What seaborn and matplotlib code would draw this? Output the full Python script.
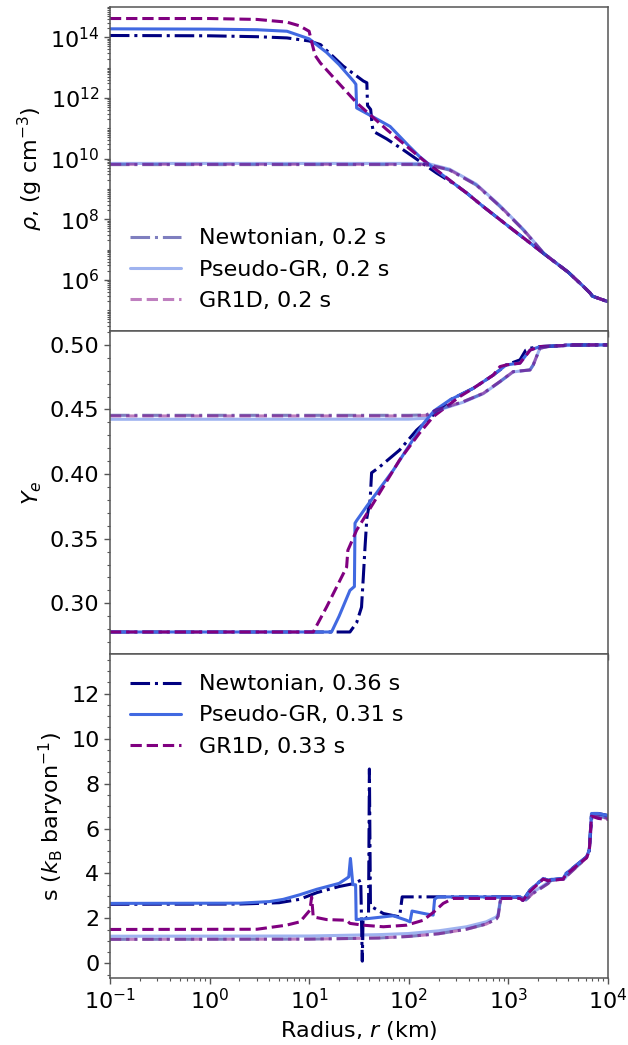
import numpy as np
import pandas as pd
import matplotlib
matplotlib.use("Agg")
import matplotlib.pyplot as plt
import seaborn as sns
from matplotlib.ticker import LogLocator, AutoMinorLocator, NullFormatter

# ---------------------------------------------------------------------------
# Model names, colours and line styles
models = ["Newtonian", "Pseudo-GR", "GR1D"]
late_times = ["0.36 s", "0.31 s", "0.33 s"]
early_time = "0.2 s"
colors = ["#000080", "#4169e1", "#800080"]
styles = ["-.", "-", "--"]

# ---------------------------------------------------------------------------
# Density: radius (km) and log10(rho / g cm^-3)
r_rho_tail = [300, 380, 558, 1000, 2240, 4000, 5600, 6600, 7000, 10000]
lrho_tail = [9.12, 8.87, 8.42, 7.77, 6.88, 6.25, 5.80, 5.57, 5.46, 5.28]

r_rho_newt = [0.1, 1, 3, 6, 10, 13, 22, 35, 38.0, 38.6, 41.5, 43.0, 44.0, 60, 88, 191]
lrho_newt = [14.06, 14.05, 14.02, 13.98, 13.88, 13.76, 13.05, 12.56, 12.5, 11.75,
             11.62, 11.1, 10.9, 10.65, 10.29, 9.52]

r_rho_pgr = [0.1, 1, 3, 6, 10, 15, 20, 28, 29.5, 30.0, 50, 65, 100, 128, 191]
lrho_pgr = [14.28, 14.27, 14.25, 14.2, 13.95, 13.5, 13.1, 12.55, 12.45, 11.67,
            11.27, 11.06, 10.42, 10.07, 9.6]

r_rho_gr1d = [0.1, 1, 3, 6, 8, 10, 10.6, 11.5, 13, 17.3, 30, 60, 100, 151, 191]
lrho_gr1d = [14.62, 14.62, 14.59, 14.5, 14.38, 14.2, 13.85, 13.4, 13.15, 12.7,
             11.84, 10.96, 10.35, 9.86, 9.62]

r_rho_early = [0.1, 10, 100, 120, 162, 257, 475, 824, 1410, 2300, 4000, 5600, 6600, 7000, 10000]
lrho_newt_early = [9.80, 9.80, 9.80, 9.80, 9.78, 9.62, 9.13, 8.42, 7.65, 6.85, 6.25, 5.80, 5.57, 5.46, 5.28]
lrho_pgr_early = [9.84, 9.84, 9.84, 9.84, 9.82, 9.65, 9.16, 8.45, 7.67, 6.86, 6.25, 5.80, 5.57, 5.46, 5.28]
lrho_gr1d_early = [9.81, 9.81, 9.81, 9.81, 9.79, 9.63, 9.14, 8.43, 7.66, 6.85, 6.25, 5.80, 5.57, 5.46, 5.28]

# ---------------------------------------------------------------------------
# Electron fraction
r_ye_newt = [0.1, 25.7, 30, 33.6, 35, 36.4, 38, 41, 42.4, 50, 81, 120, 190, 259,
             445, 708, 955, 1310, 1500, 1650, 2090, 3560, 3900, 10000]
ye_newt = [0.2778, 0.2778, 0.285, 0.297, 0.32, 0.343, 0.366, 0.38, 0.401, 0.405,
           0.4186, 0.434, 0.448, 0.4574, 0.4664, 0.4767, 0.4845, 0.4884, 0.496,
           0.4974, 0.4987, 0.4995, 0.5, 0.5]

r_ye_pgr = [0.1, 16.8, 20, 25.7, 28.5, 28.9, 30, 37.8, 70, 140, 180, 259, 445,
            708, 955, 1310, 1650, 2090, 3560, 3900, 10000]
ye_pgr = [0.2778, 0.2778, 0.29, 0.31, 0.313, 0.362, 0.364, 0.375, 0.403, 0.439,
          0.449, 0.4574, 0.4664, 0.4767, 0.4845, 0.486, 0.496, 0.4987, 0.4995, 0.5, 0.5]

r_ye_gr1d = [0.1, 11, 15, 23.8, 24.5, 30, 44, 81, 128, 176, 326, 445, 708, 825,
             955, 1310, 1660, 2090, 3560, 3900, 10000]
ye_gr1d = [0.2778, 0.2778, 0.2972, 0.328, 0.341, 0.3566, 0.3773, 0.4109, 0.4316,
           0.4444, 0.46, 0.4664, 0.4767, 0.4832, 0.4845, 0.4858, 0.496, 0.4987,
           0.4995, 0.5, 0.5]

r_ye_early = [0.1, 100, 150, 190, 352, 560, 824, 1120, 1650, 1780, 2075, 2500, 3800, 10000]
ye_newt_early = [0.4455, 0.4455, 0.4458, 0.4496, 0.456, 0.4625, 0.4716, 0.4793,
                 0.4806, 0.4845, 0.4974, 0.4987, 0.4995, 0.5]
ye_pgr_early = [0.4424, 0.4425, 0.4432, 0.4490, 0.4556, 0.4622, 0.4714, 0.4791,
                0.4806, 0.4845, 0.4974, 0.4987, 0.4995, 0.5]
ye_gr1d_early = [0.4450, 0.4450, 0.4455, 0.4496, 0.456, 0.4625, 0.4716, 0.4793,
                 0.4806, 0.4845, 0.4974, 0.4987, 0.4995, 0.5]

# ---------------------------------------------------------------------------
# Entropy per baryon
r_s_tail = [1310, 1400, 1650, 2240, 2500, 3550, 3800, 6100, 6500, 6840, 8000, 10000]
s_tail = [2.96, 2.8, 3.26, 3.78, 3.7, 3.78, 4.0, 4.74, 5.04, 6.67, 6.67, 6.58]

r_s_newt = [0.1, 2, 5, 8, 12, 20, 28, 33, 34.2, 34.8, 36, 39.5, 40.3, 41.3, 42.6,
            55.6, 81, 86]
s_newt = [2.63, 2.64, 2.7, 2.85, 3.15, 3.42, 3.55, 3.7, 0.1, 2.0, 1.95, 2.1, 8.65,
          2.6, 2.52, 2.22, 2.07, 2.96]

r_s_pgr = [0.1, 2, 4, 5.5, 8, 12, 20, 23.8, 25.0, 26.0, 27.5, 29.3, 29.7, 40, 55.6,
           70, 95, 103, 108, 150, 176, 182, 195]
s_pgr = [2.67, 2.68, 2.75, 2.85, 3.05, 3.3, 3.56, 3.78, 3.85, 4.67, 3.5, 3.5, 1.95,
         2.0, 2.07, 2.12, 1.92, 1.85, 2.33, 2.2, 2.15, 2.85, 2.96]

r_s_gr1d = [0.1, 3, 5.9, 8.1, 10.2, 10.6, 11.0, 15, 23.8, 25.7, 35, 55.6, 95, 140,
            180, 222, 280]
s_gr1d = [1.51, 1.52, 1.7, 1.85, 2.37, 2.96, 2.07, 1.95, 1.92, 1.78, 1.7, 1.63,
          1.7, 1.92, 2.3, 2.67, 2.89]
s_gr1d_end = [2.89, 2.8, 3.2, 3.75, 3.68, 3.75, 3.95, 4.7, 5.0, 6.55, 6.45, 6.4]

r_s_early = [0.1, 10, 50, 100, 200, 380, 600, 760, 790, 830, 850, 1000, 1310, 1500,
             1750, 2500, 2700, 3700, 4000, 6100, 6500, 6900, 8000, 10000]
s_pgr_early = [1.21, 1.22, 1.28, 1.33, 1.45, 1.63, 1.85, 2.07, 2.2, 2.8, 2.9, 2.93,
               2.96, 2.85, 3.15, 3.6, 3.75, 3.78, 4.0, 4.74, 5.04, 6.6, 6.6, 6.5]
s_newt_early = [1.07, 1.08, 1.13, 1.2, 1.32, 1.52, 1.75, 1.98, 2.1, 2.75, 2.88,
                2.92, 2.95, 2.82, 3.1, 3.55, 3.7, 3.75, 3.95, 4.7, 5.0, 6.55, 6.55, 6.45]
s_gr1d_early = [1.07, 1.08, 1.13, 1.2, 1.32, 1.52, 1.75, 1.98, 2.1, 2.75, 2.88,
                2.92, 2.95, 2.82, 3.1, 3.55, 3.7, 3.75, 3.95, 4.7, 5.0, 6.55, 6.55, 6.45]

# ---------------------------------------------------------------------------
sns.set_style("ticks")
plt.rcParams["font.family"] = ["DejaVu Sans"]
plt.rcParams["text.color"] = "black"
plt.rcParams["axes.labelcolor"] = "black"
plt.rcParams["xtick.labelcolor"] = "black"
plt.rcParams["ytick.labelcolor"] = "black"
FS = 16
LW = 2.2
EARLY_ALPHA = 0.5
SPINE = "#555555"


def draw(ax, r, y, idx, alpha=1.0, label=None):
    df = pd.DataFrame({"r": np.asarray(r, float), "y": np.asarray(y, float)})
    sns.lineplot(data=df, x="r", y="y", ax=ax, color=colors[idx],
                 linestyle=styles[idx], lw=LW, alpha=alpha, estimator=None,
                 sort=False, label=label)


fig, axes = plt.subplots(3, 1, sharex=True, figsize=(6.28, 10.45), dpi=100)
fig.subplots_adjust(left=0.175, right=0.968, top=0.9933, bottom=0.0641, hspace=0)
ax_rho, ax_ye, ax_s = axes
for ax in axes:
    ax.set_xscale("log")
ax_rho.set_yscale("log")

# --- density panel
early_labels = [f"{m}, {early_time}" for m in models]
for i, (r, lr) in enumerate([(r_rho_newt, lrho_newt), (r_rho_pgr, lrho_pgr),
                             (r_rho_gr1d, lrho_gr1d)]):
    draw(ax_rho, list(r) + r_rho_tail, 10 ** np.array(list(lr) + lrho_tail), i)
for i, lr in enumerate([lrho_newt_early, lrho_pgr_early, lrho_gr1d_early]):
    draw(ax_rho, r_rho_early, 10 ** np.array(lr), i, EARLY_ALPHA, early_labels[i])

# --- electron fraction panel
for i, (r, y) in enumerate([(r_ye_newt, ye_newt), (r_ye_pgr, ye_pgr),
                            (r_ye_gr1d, ye_gr1d)]):
    draw(ax_ye, r, y, i)
for i, y in enumerate([ye_newt_early, ye_pgr_early, ye_gr1d_early]):
    draw(ax_ye, r_ye_early, y, i, EARLY_ALPHA)

# --- entropy panel
for i, y in enumerate([s_newt_early, s_pgr_early, s_gr1d_early]):
    draw(ax_s, r_s_early, y, i, EARLY_ALPHA)
late_labels = [f"{m}, {t}" for m, t in zip(models, late_times)]
draw(ax_s, r_s_newt + r_s_tail, s_newt + s_tail, 0, label=late_labels[0])
draw(ax_s, r_s_pgr + r_s_tail, s_pgr + s_tail, 1, label=late_labels[1])
draw(ax_s, r_s_gr1d + r_s_tail, s_gr1d + s_gr1d_end, 2, label=late_labels[2])

# --- axes cosmetics
ax_s.set_xlim(1e-1, 1e4)
ax_rho.set_ylim(2.1e4, 1.0e15)
ax_ye.set_ylim(0.2605, 0.511)
ax_s.set_ylim(-0.65, 13.75)

ax_rho.set_yticks([1e6, 1e8, 1e10, 1e12, 1e14])
ax_rho.yaxis.set_minor_locator(LogLocator(base=10, subs=np.arange(1, 10), numticks=100))
ax_rho.yaxis.set_minor_formatter(NullFormatter())
ax_ye.set_yticks([0.30, 0.35, 0.40, 0.45, 0.50])
ax_ye.yaxis.set_minor_locator(AutoMinorLocator(5))
ax_s.set_yticks([0, 2, 4, 6, 8, 10, 12])
ax_s.yaxis.set_minor_locator(AutoMinorLocator(4))
ax_s.set_xticks([1e-1, 1, 1e1, 1e2, 1e3, 1e4])
ax_s.xaxis.set_minor_locator(LogLocator(base=10, subs=np.arange(2, 10), numticks=100))
ax_s.xaxis.set_minor_formatter(NullFormatter())

ax_rho.set_ylabel(r"$\rho$, (g cm$^{-3}$)", fontsize=FS, color="black")
ax_ye.set_ylabel(r"$Y_e$", fontsize=FS, color="black")
ax_s.set_ylabel(r"s ($k_{\rm B}$ baryon$^{-1}$)", fontsize=FS, color="black")
for ax in axes[:2]:
    ax.set_xlabel("")
ax_s.set_xlabel(r"Radius, $r$ (km)", fontsize=FS, color="black")

for ax in axes:
    for sp in ax.spines.values():
        sp.set_color(SPINE)
        sp.set_linewidth(1.1)
    ax.tick_params(which="major", direction="out", length=4.5, width=1.0,
                   color=SPINE, labelsize=FS, labelcolor="black", pad=3)
    ax.tick_params(which="minor", direction="out", length=2.5, width=0.8,
                   color=SPINE)

leg1 = ax_rho.legend(loc="lower left", frameon=False, fontsize=FS, handlelength=2.3)
if ax_ye.get_legend() is not None:
    ax_ye.get_legend().remove()
leg3 = ax_s.legend(loc="upper left", frameon=False, fontsize=FS, handlelength=2.3)
for leg in (leg1, leg3):
    for t in leg.get_texts():
        t.set_color("black")

fig.savefig("out.png", dpi=100)
